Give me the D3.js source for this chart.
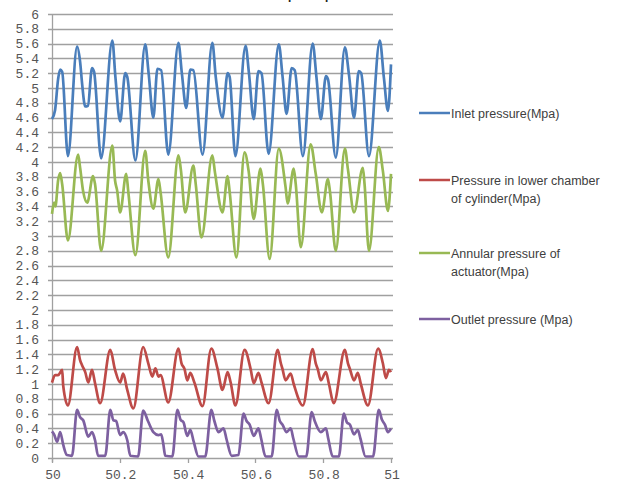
<!DOCTYPE html>
<html>
<head>
<meta charset="utf-8">
<script src="https://cdn.jsdelivr.net/npm/d3@7/dist/d3.min.js"></script>
<style>
body { margin: 0; background: #fff; }
svg { display: block; }
</style>
</head>
<body>
<svg id="chart" width="622" height="483"></svg>
<script>
//time stamps (s) and pressures (Mpa)
var inletTime = [50.000,50.009,50.018,50.024,50.030,50.047,
	50.074,50.083,50.089,50.098,50.106,50.118,50.124,50.145,
	50.178,50.187,50.201,50.216,50.222,50.246,
	50.275,50.285,50.299,50.311,50.322,50.343,
	50.373,50.383,50.396,50.408,50.417,50.444,
	50.473,50.483,50.503,50.518,50.524,50.541,
	50.571,50.581,50.595,50.609,50.618,50.639,
	50.669,50.680,50.692,50.707,50.716,50.740,
	50.769,50.780,50.793,50.808,50.814,50.837,
	50.864,50.876,50.891,50.905,50.912,50.935,
	50.967,50.979,50.991,51.000];
var inletValues = [4.58,4.70,5.12,5.25,5.22,4.08,
	5.56,5.35,5.05,4.75,4.76,5.27,5.22,4.05,
	5.64,5.15,4.55,5.20,5.15,4.02,
	5.59,5.20,4.60,5.26,5.24,4.10,
	5.61,5.20,4.73,5.25,5.24,4.10,
	5.61,5.15,4.60,5.20,5.15,4.08,
	5.57,5.20,4.58,5.23,5.20,4.11,
	5.59,5.16,4.65,5.27,5.24,4.08,
	5.60,5.15,4.58,5.16,5.12,4.06,
	5.55,5.18,4.60,5.23,5.20,4.08,
	5.64,5.14,4.69,5.32];

var lowerTime = [50.000,50.009,50.018,50.030,50.033,50.047,
	50.074,50.083,50.089,50.098,50.107,50.118,50.127,50.142,
	50.172,50.186,50.201,50.210,50.222,50.240,
	50.269,50.284,50.296,50.305,50.314,50.320,50.343,
	50.373,50.382,50.391,50.399,50.408,50.420,50.444,
	50.470,50.488,50.503,50.518,50.527,50.541,
	50.568,50.586,50.595,50.609,50.618,50.639,
	50.666,50.675,50.680,50.689,50.704,50.713,50.740,
	50.769,50.778,50.784,50.793,50.808,50.817,50.831,
	50.864,50.873,50.879,50.891,50.902,50.911,50.932,
	50.962,50.976,50.985,50.994,51.000];
var lowerValues = [1.02,1.12,1.12,1.19,0.98,0.71,
	1.50,1.32,1.25,1.16,1.02,1.19,1.01,0.74,
	1.46,1.19,1.02,1.14,0.92,0.67,
	1.50,1.28,1.10,1.21,1.10,1.12,0.75,
	1.48,1.28,1.20,1.05,1.15,1.02,0.70,
	1.48,1.21,0.92,1.16,1.02,0.71,
	1.46,1.20,1.01,1.15,1.02,0.74,
	1.46,1.28,1.20,1.05,1.14,1.00,0.71,
	1.47,1.28,1.20,1.05,1.16,1.00,0.74,
	1.46,1.28,1.20,1.05,1.15,1.00,0.71,
	1.48,1.28,1.08,1.19,1.16];

var annularTime = [50.000,50.006,50.010,50.018,50.024,50.030,50.047,
	50.077,50.083,50.092,50.104,50.121,50.127,50.145,
	50.178,50.186,50.192,50.201,50.219,50.225,50.246,
	50.275,50.284,50.299,50.314,50.320,50.343,
	50.373,50.380,50.393,50.417,50.424,50.441,
	50.473,50.481,50.503,50.518,50.524,50.544,
	50.568,50.580,50.595,50.615,50.622,50.642,
	50.669,50.689,50.695,50.713,50.719,50.734,
	50.763,50.778,50.796,50.814,50.820,50.837,
	50.864,50.873,50.891,50.917,50.922,50.935,
	50.964,50.976,50.991,51.000];
var annularValues = [3.30,3.45,3.40,3.75,3.85,3.70,2.94,
	4.10,3.92,3.60,3.45,3.81,3.70,2.80,
	4.22,3.75,3.62,3.32,3.84,3.60,2.74,
	4.15,3.75,3.37,3.77,3.60,2.71,
	4.09,3.90,3.32,3.95,3.70,2.98,
	4.09,3.85,3.32,3.81,3.60,2.71,
	4.13,3.88,3.23,3.91,3.70,2.69,
	4.18,3.66,3.44,3.91,3.70,2.85,
	4.24,3.84,3.32,3.77,3.60,2.80,
	4.18,3.90,3.32,3.92,3.70,2.80,
	4.20,3.88,3.34,3.84];

var outletTime = [50.000,50.006,50.015,50.024,50.033,50.044,50.059,
	50.074,50.083,50.092,50.107,50.118,50.127,50.136,50.157,
	50.172,50.181,50.189,50.201,50.210,50.222,50.231,50.254,
	50.269,50.283,50.299,50.314,50.322,50.328,50.334,50.355,
	50.370,50.379,50.388,50.399,50.408,50.418,50.432,50.452,
	50.470,50.479,50.491,50.506,50.515,50.530,50.550,
	50.565,50.574,50.583,50.595,50.609,50.617,50.630,50.648,
	50.663,50.672,50.680,50.692,50.704,50.712,50.728,50.750,
	50.766,50.775,50.793,50.808,50.815,50.828,50.846,
	50.861,50.870,50.879,50.891,50.902,50.910,50.925,50.947,
	50.964,50.973,50.982,50.991,51.000];
var outletValues = [0.36,0.32,0.22,0.35,0.18,0.04,0.03,
	0.65,0.55,0.51,0.29,0.35,0.24,0.03,0.03,
	0.65,0.51,0.50,0.31,0.35,0.24,0.03,0.02,
	0.64,0.50,0.35,0.31,0.32,0.20,0.03,0.02,
	0.65,0.52,0.48,0.30,0.38,0.22,0.02,0.02,
	0.65,0.50,0.35,0.40,0.25,0.03,0.04,
	0.60,0.50,0.45,0.30,0.40,0.26,0.02,0.02,
	0.65,0.50,0.45,0.35,0.40,0.26,0.02,0.02,
	0.62,0.50,0.35,0.40,0.26,0.02,0.02,
	0.60,0.48,0.45,0.32,0.38,0.26,0.02,0.02,
	0.65,0.52,0.45,0.35,0.40];

var seriesNames = [["Inlet pressure(Mpa)"],
	["Pressure in lower chamber", "of cylinder(Mpa)"],
	["Annular pressure of", "actuator(Mpa)"],
	["Outlet pressure (Mpa)"]];
var seriesColors = ["#4a7ebb", "#be4b48", "#98b954", "#7d60a0"];
var xTicks = [50, 50.2, 50.4, 50.6, 50.8, 51];
var xTickLabels = ["50", "50.2", "50.4", "50.6", "50.8", "51"];
var yTicks = d3.range(0, 31).map(function(i){ return i / 5; });

var series = [
	{times: inletTime, values: inletValues},
	{times: lowerTime, values: lowerValues},
	{times: annularTime, values: annularValues},
	{times: outletTime, values: outletValues}
];

var svg = d3.select("#chart");

var x = d3.scaleLinear().domain([50, 51]).range([52, 391]);
var y = d3.scaleLinear().domain([0, 6]).range([458, 14]);

//partially cut title at the very top (only descenders show, as in the source)
svg.append("text")
	.attr("x", 335)
	.attr("y", -2)
	.attr("text-anchor", "end")
	.attr("font-family", "Liberation Sans, Arial, sans-serif")
	.attr("font-size", "19px")
	.attr("fill", "#222")
	.text("Pressure of the pump");

//horizontal gridlines
svg.append("g").selectAll("line")
	.data(yTicks)
	.enter().append("line")
	.attr("x1", 48)
	.attr("x2", 393)
	.attr("y1", function(d){ return Math.round(y(d)) + 0.5; })
	.attr("y2", function(d){ return Math.round(y(d)) + 0.5; })
	.attr("stroke", "#a0a0a0")
	.attr("stroke-width", 1.3);

//y axis line
svg.append("line")
	.attr("x1", 52.5).attr("x2", 52.5)
	.attr("y1", y(6)).attr("y2", y(0) + 4)
	.attr("stroke", "#a0a0a0")
	.attr("stroke-width", 1.3);

//x tick marks
svg.append("g").selectAll("line")
	.data(xTicks)
	.enter().append("line")
	.attr("x1", function(d){ return Math.round(x(d)) + 0.5; })
	.attr("x2", function(d){ return Math.round(x(d)) + 0.5; })
	.attr("y1", y(0))
	.attr("y2", y(0) + 5)
	.attr("stroke", "#a0a0a0")
	.attr("stroke-width", 1.3);

//y tick labels
svg.append("g").selectAll("text")
	.data(yTicks)
	.enter().append("text")
	.attr("x", 39)
	.attr("y", function(d){ return y(d) + 4.5; })
	.attr("text-anchor", "end")
	.attr("font-family", "Liberation Mono, monospace")
	.attr("font-size", "13px")
	.attr("fill", "#555")
	.text(function(d){ return String(+d.toFixed(1)); });

//x tick labels
svg.append("g").selectAll("text")
	.data(xTicks)
	.enter().append("text")
	.attr("x", function(d){ return x(d) + 1; })
	.attr("y", 479)
	.attr("text-anchor", "middle")
	.attr("font-family", "Liberation Mono, monospace")
	.attr("font-size", "13px")
	.attr("fill", "#555")
	.text(function(d, i){ return xTickLabels[i]; });

//pressure curves
var line = d3.line()
	.x(function(d){ return x(d[0]); })
	.y(function(d){ return y(d[1]); })
	.curve(d3.curveMonotoneX);

svg.append("g").selectAll("path")
	.data(series)
	.enter().append("path")
	.attr("d", function(s){
		return line(s.times.map(function(t, i){ return [t, s.values[i]]; }));
	})
	.attr("fill", "none")
	.attr("stroke", function(s, i){ return seriesColors[i]; })
	.attr("stroke-width", 2.7)
	.attr("stroke-linejoin", "round");

//legend
var legendY = [113, 180, 253, 319];
var legend = svg.append("g").selectAll("g")
	.data(seriesNames)
	.enter().append("g")
	.attr("transform", function(d, i){ return "translate(419," + legendY[i] + ")"; });

legend.append("line")
	.attr("x1", 0).attr("x2", 31)
	.attr("y1", 0).attr("y2", 0)
	.attr("stroke", function(d, i){ return seriesColors[i]; })
	.attr("stroke-width", 2.5);

legend.append("text")
	.attr("font-family", "Liberation Sans, Arial, sans-serif")
	.attr("font-size", "12.5px")
	.attr("fill", "#404040")
	.selectAll("tspan")
	.data(function(d){ return d; })
	.enter().append("tspan")
	.attr("x", 32)
	.attr("y", function(d, i){ return 4.5 + i * 18; })
	.text(function(d){ return d; });
</script>
</body>
</html>
